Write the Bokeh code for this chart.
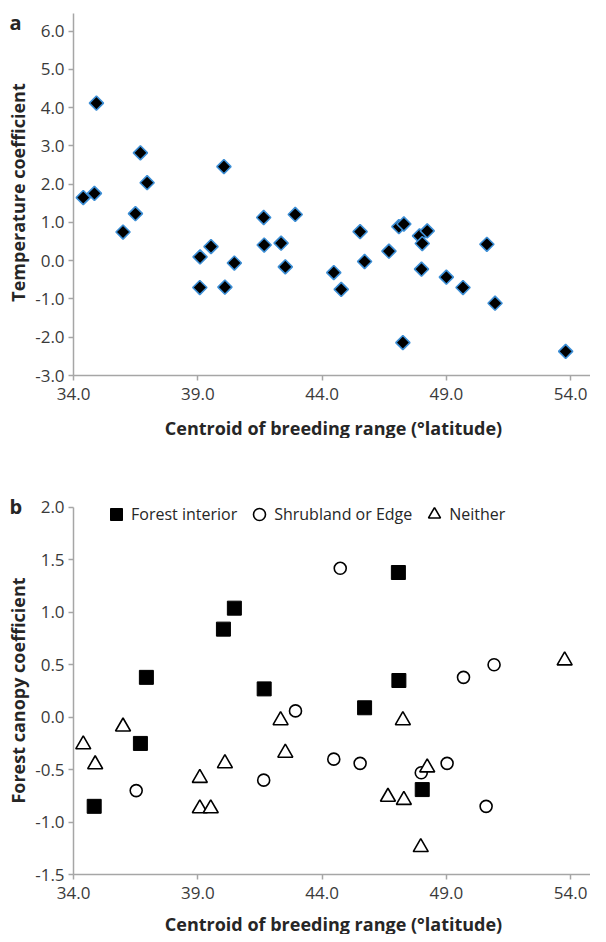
from bokeh.plotting import figure
from bokeh.layouts import column
from bokeh.models import (Range1d, FixedTicker, PrintfTickFormatter, Label, Legend,
                          LegendItem, LinearAxis)
from bokeh.embed import file_html
from bokeh.resources import INLINE
import math

# ---- Panel a data: centroid latitude vs temperature coefficient ----
lat_a = [34.39, 34.84, 34.92, 35.99, 36.49, 36.69, 36.96, 39.08, 39.09, 39.53,
         40.05, 40.09, 40.47, 41.65, 41.67, 42.35, 42.52, 42.92, 44.47, 44.77,
         45.53, 45.71, 46.69, 47.09, 47.29, 47.25, 47.92, 48.23, 48.03, 48.00,
         49.00, 49.67, 50.63, 50.96, 53.80]
temp_coef = [1.65, 1.76, 4.12, 0.75, 1.23, 2.82, 2.04, -0.70, 0.10, 0.37,
             2.46, -0.69, -0.06, 1.13, 0.41, 0.46, -0.16, 1.21, -0.31, -0.75,
             0.76, -0.02, 0.25, 0.89, 0.96, -2.14, 0.65, 0.78, 0.45, -0.22,
             -0.43, -0.70, 0.43, -1.11, -2.37]

# ---- Panel b data: forest canopy coefficient by habitat group ----
forest_lat = [34.83, 36.69, 36.93, 40.03, 40.47, 41.67, 45.71, 47.07, 47.09, 48.03]
forest_coef = [-0.85, -0.25, 0.38, 0.84, 1.04, 0.27, 0.09, 1.38, 0.35, -0.69]

shrub_lat = [36.52, 41.65, 42.93, 44.47, 44.73, 45.53, 47.99, 49.03, 49.69, 50.60, 50.92]
shrub_coef = [-0.70, -0.60, 0.06, -0.40, 1.42, -0.44, -0.53, -0.44, 0.38, -0.85, 0.50]

neither_lat = [34.39, 34.87, 35.99, 39.08, 39.08, 39.52, 40.09, 42.33, 42.52,
               46.65, 47.25, 47.29, 47.97, 48.23, 53.76]
neither_coef = [-0.26, -0.45, -0.09, -0.58, -0.87, -0.87, -0.44, -0.03, -0.34,
                -0.76, -0.03, -0.79, -1.24, -0.48, 0.54]

x_ticks = [34.0, 39.0, 44.0, 49.0, 54.0]
ya_ticks = [-3.0, -2.0, -1.0, 0.0, 1.0, 2.0, 3.0, 4.0, 5.0, 6.0]
yb_ticks = [-1.5, -1.0, -0.5, 0.0, 0.5, 1.0, 1.5, 2.0]

x_title = "Centroid of breeding range (°latitude)"
ya_title = "Temperature coefficient"
yb_title = "Forest canopy coefficient"

FONT = "Open Sans"
AXIS_GREY = "#a6a6a6"
X_START, X_END = 31.06, 54.80


def style_axis(ax):
    ax.formatter = PrintfTickFormatter(format="%.1f")
    ax.axis_line_color = AXIS_GREY
    ax.axis_line_width = 1.5
    ax.major_tick_line_color = AXIS_GREY
    ax.major_tick_line_width = 1.5
    ax.major_tick_out = 5
    ax.major_tick_in = 0
    ax.minor_tick_line_color = None
    ax.major_label_text_font = FONT
    ax.major_label_text_font_size = "17px"
    ax.major_label_text_color = "#3a3a3a"


def title_label(x, y, text, angle=0.0, size="18px", align="center"):
    return Label(x=x, y=y, x_units="screen", y_units="screen", text=text, angle=angle,
                 text_font=FONT, text_font_style="bold", text_font_size=size,
                 text_align=align, text_baseline="middle", text_color="#262626")


def make_panel(height, y_start, y_end, y_base, y_top, yticks):
    p = figure(width=590, height=height,
               min_border_left=0, min_border_right=0, min_border_top=0, min_border_bottom=0,
               x_range=Range1d(X_START, X_END), y_range=Range1d(y_start, y_end),
               x_axis_location=None, y_axis_location=None,
               output_backend="svg", toolbar_location=None)
    p.grid.visible = False
    p.outline_line_color = None
    xa = LinearAxis(fixed_location=y_base, ticker=FixedTicker(ticks=x_ticks),
                    bounds=(34.0, X_END))
    style_axis(xa)
    xa.major_label_standoff = 7
    p.add_layout(xa, "below")
    ya = LinearAxis(fixed_location=34.0, ticker=FixedTicker(ticks=yticks),
                    bounds=(y_base, y_top))
    style_axis(ya)
    ya.major_label_standoff = 4
    p.add_layout(ya, "left")
    return p


# ---------------- Panel a ----------------
pa = make_panel(438, -4.6468, 6.8025, -3.0, 6.4627, ya_ticks)
pa.scatter(lat_a, temp_coef, marker="square", angle=math.pi / 4, size=10,
           fill_color="black", line_color="#3d8fd6", line_width=1.6)
pa.add_layout(title_label(9, 416, "a", size="20px", align="left"))
pa.add_layout(title_label(17, 246, ya_title, angle=math.pi / 2))
pa.add_layout(title_label(333, 11, x_title))

# ---------------- Panel b ----------------
pb = make_panel(496, -2.0722, 2.658, -1.5, 2.0, yb_ticks)
r_forest = pb.scatter(forest_lat, forest_coef, marker="square", size=14,
                      fill_color="black", line_color="black", line_width=1)
r_shrub = pb.scatter(shrub_lat, shrub_coef, marker="circle", size=12,
                     fill_color="white", line_color="black", line_width=1.6)
r_neither = pb.scatter(neither_lat, neither_coef, marker="triangle", size=15,
                       fill_color="white", line_color="black", line_width=1.6)
pb.add_layout(title_label(9, 428, "b", size="20px", align="left"))
pb.add_layout(title_label(17, 244, yb_title, angle=math.pi / 2))
pb.add_layout(title_label(333, 11, x_title))

legend = Legend(items=[LegendItem(label="Forest interior", renderers=[r_forest]),
                       LegendItem(label="Shrubland or Edge", renderers=[r_shrub]),
                       LegendItem(label="Neither", renderers=[r_neither])],
                orientation="horizontal", location=(101, 405),
                glyph_width=30, glyph_height=30, label_standoff=-6, spacing=7,
                padding=0, margin=0, border_line_color=None, background_fill_alpha=0,
                label_text_font=FONT, label_text_font_size="16px",
                label_text_color="#262626")
pb.add_layout(legend)

layout = column(pa, pb, spacing=0)
open("out.html", "w").write(file_html(layout, INLINE))
